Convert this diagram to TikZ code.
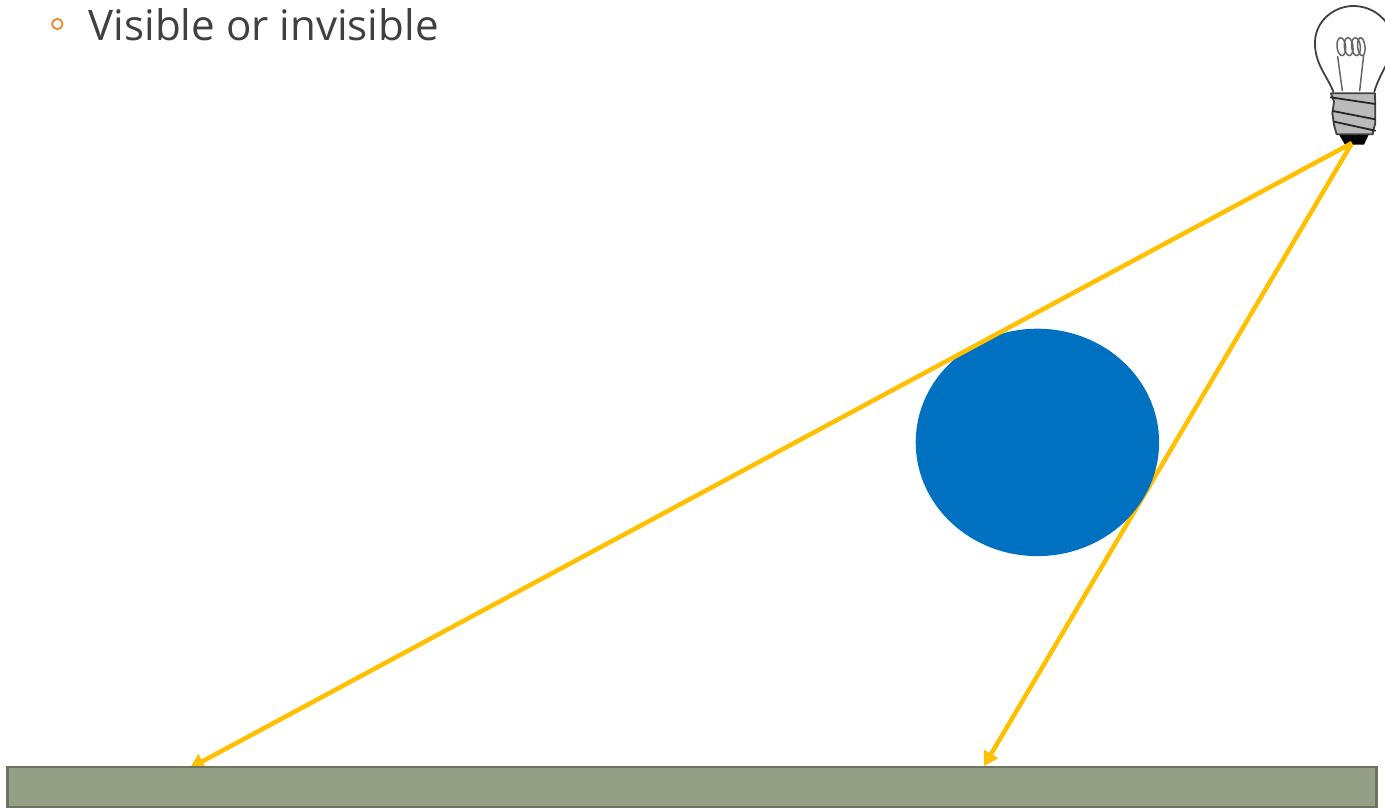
\documentclass[tikz,border=0pt]{standalone}
\usepackage{fontspec}
\setmainfont{Open Sans}
\usetikzlibrary{arrows.meta,shapes.geometric}
\definecolor{rayc}{HTML}{FFC000}
\definecolor{ballc}{HTML}{0070C0}
\definecolor{groundc}{HTML}{959F86}
\definecolor{groundl}{HTML}{6D7561}
\definecolor{textc}{HTML}{404040}
\definecolor{bulletc}{HTML}{E98A24}
\definecolor{screwc}{HTML}{BABABA}
\tikzset{
  ray/.style={draw=rayc,line width=4.5pt,-{Triangle[width=16pt,length=14pt]}},
  ball/.style={ellipse,fill=ballc,inner sep=0pt,minimum width=243.4pt,minimum height=227.4pt},
  ground/.style={draw=groundl,fill=groundc,line width=2.9pt},
  label/.style={text=textc,inner sep=0pt,anchor=base west,font=\fontsize{42.1pt}{42.1pt}\selectfont},
  bulbline/.style={draw=black!75,line width=1.8pt,line cap=round,line join=round},
  thinbulb/.style={draw=black!60,line width=1.5pt,line cap=round,line join=round},
  threadline/.style={draw=black!85,line width=1.8pt,line cap=round,line join=round},
}
\begin{document}
\begin{tikzpicture}[x=1pt,y=-1pt]
\useasboundingbox (0,0) rectangle (1385,809);
\clip (0,0) rectangle (1385,809);
\coordinate (src) at (1352,143);
\coordinate (hitL) at (190,768);
\coordinate (hitR) at (984,766);
% right ray runs behind the ball, left ray in front of it
\draw[ray] (src) -- (hitR);
\node[ball] (sphere) at (1037.4,442.4) {};
% bulb glass and filament (zoom coordinates: 3 units = 1 px)
\begin{scope}[shift={(1285,0)},x=0.3333pt,y=-0.3333pt]
  \draw[bulbline] (145,275) .. controls (125,225) and (88,190) .. (90,125)
     .. controls (92,60) and (150,18) .. (205,18)
     .. controls (260,18) and (315,55) .. (325,120)
     .. controls (328,170) and (285,215) .. (268,275);
  \draw[thinbulb] (172,272) -- (158,170);
  \draw[thinbulb] (224,272) -- (236,165);
  \foreach \cx/\rx in {169/13,191/13,213/13,229/11}
    \draw[thinbulb,rotate around={6:(\cx,140)}] (\cx,140) ellipse [x radius=\rx,y radius=27];
\end{scope}
% bulb screw base (zoom coordinates: 3 units = 1 px)
\begin{scope}[shift={(1320,80)},x=0.3333pt,y=-0.3333pt]
  \fill[black] (55,160) -- (148,160) -- (132,194) -- (75,194) -- cycle;
  \draw[bulbline,fill=screwc] (33,40) -- (165,40) -- (166,90) -- (166,130) -- (160,150) -- (158,163) -- (50,163)
     -- (42,135) -- (37,100) -- (42,65) -- cycle;
  \draw[threadline] (32,52) -- (166,72);
  \draw[threadline] (38,93) -- (166,118);
  \draw[threadline] (42,125) -- (166,152);
\end{scope}
\draw[ray] (src) -- (hitL);
\draw[ground] (7.5,767) rectangle (1376.5,807);
\draw[draw=bulletc,line width=1.8pt] (57.3,24) circle (5.2pt);
\node[label] (txt) at (88.5,40) {Visible or invisible};
\end{tikzpicture}
\end{document}
